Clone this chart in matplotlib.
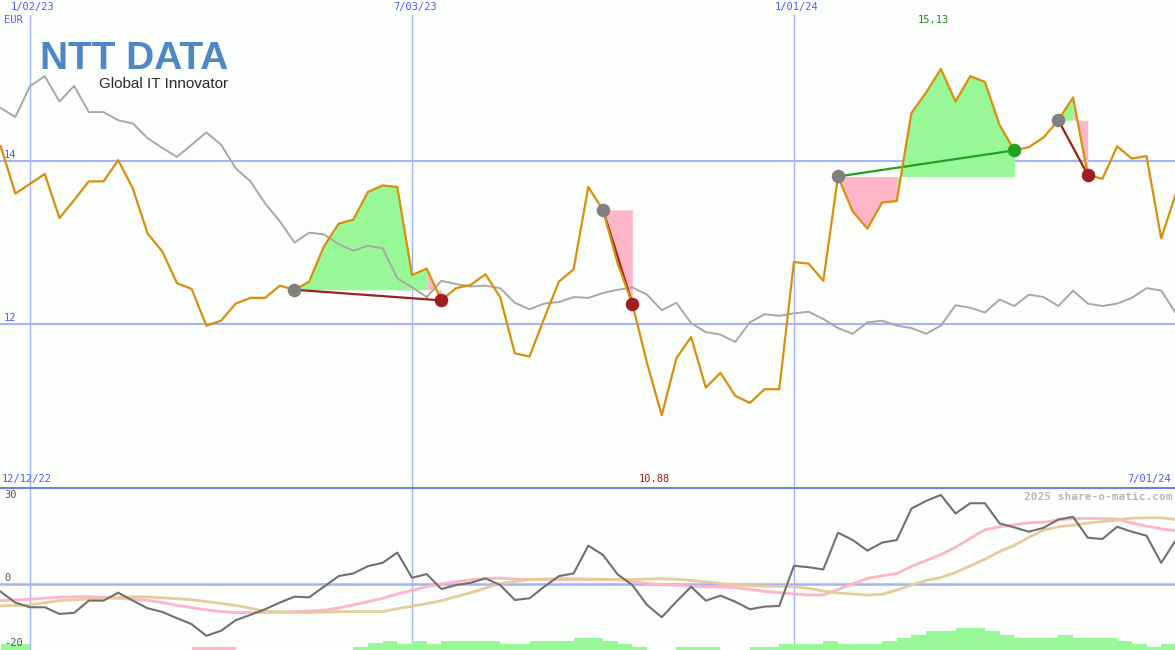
import numpy as np
import matplotlib
matplotlib.use('Agg')
import matplotlib.pyplot as plt

# weekly data, week 1 = 19 Dec 2022
weeks = np.arange(1, 82)

price = [14.18, 13.60, 13.72, 13.84, 13.30, 13.52, 13.75, 13.75, 14.01, 13.66,
         13.11, 12.89, 12.50, 12.43, 11.98, 12.04, 12.25, 12.32, 12.32, 12.47,
         12.42, 12.52, 12.95, 13.23, 13.28, 13.62, 13.70, 13.68, 12.60, 12.68,
         12.29, 12.44, 12.48, 12.61, 12.33, 11.64, 11.60, 12.07, 12.52, 12.67,
         13.68, 13.40, 12.74, 12.25, 11.52, 10.88, 11.58, 11.84, 11.22, 11.40,
         11.12, 11.03, 11.20, 11.20, 12.76, 12.74, 12.53, 13.81, 13.38, 13.17,
         13.49, 13.51, 14.59, 14.84, 15.13, 14.73, 15.04, 14.97, 14.44, 14.13,
         14.17, 14.29, 14.50, 14.78, 13.83, 13.78, 14.18, 14.03, 14.06, 13.05,
         13.60]

# index, rescaled to the price
compare = [14.65, 14.54, 14.92, 15.04, 14.73, 14.92, 14.60, 14.60, 14.50, 14.46,
           14.28, 14.16, 14.05, 14.20, 14.35, 14.20, 13.91, 13.75, 13.48, 13.26,
           13.00, 13.12, 13.10, 12.98, 12.90, 12.96, 12.93, 12.56, 12.45, 12.33,
           12.53, 12.49, 12.46, 12.47, 12.44, 12.26, 12.18, 12.25, 12.27, 12.33,
           12.32, 12.38, 12.42, 12.45, 12.36, 12.17, 12.26, 12.01, 11.90, 11.87,
           11.78, 12.02, 12.12, 12.10, 12.13, 12.15, 12.06, 11.95, 11.88, 12.02,
           12.04, 11.98, 11.95, 11.88, 11.98, 12.23, 12.20, 12.14, 12.30, 12.22,
           12.36, 12.33, 12.22, 12.41, 12.25, 12.22, 12.25, 12.32, 12.44, 12.41,
           12.13]

momentum = [-2.4, -5.7, -7.1, -7.1, -9.1, -8.8, -5.1, -5.1, -2.7, -5.1,
            -7.4, -8.5, -10.4, -12.2, -15.7, -14.2, -11.0, -9.4, -7.7, -5.7,
            -3.9, -4.1, -0.9, 2.3, 3.1, 5.3, 6.3, 9.4, 1.8, 2.9,
            -1.6, -0.4, 0.3, 1.6, -0.4, -4.9, -4.4, -0.9, 2.3, 3.1,
            11.5, 8.7, 2.8, -0.4, -6.4, -10.1, -5.4, -0.9, -5.1, -3.6,
            -5.4, -7.7, -6.9, -6.7, 5.4, 5.0, 4.3, 15.4, 13.2, 10.0,
            12.4, 13.2, 22.7, 25.0, 26.8, 21.2, 24.3, 24.3, 18.2, 17.0,
            15.7, 16.9, 19.4, 20.2, 13.9, 13.5, 17.2, 15.7, 14.5, 6.3,
            13.2]

avg_fast = [-5.1, -4.9, -4.7, -4.35, -4.05, -3.95, -3.9, -4.1, -4.4, -4.7,
            -5.0, -5.7, -6.5, -7.2, -7.9, -8.4, -8.7, -8.7, -8.7, -8.6,
            -8.45, -8.25, -8.0, -7.3, -6.4, -5.4, -4.4, -3.1, -2.0, -0.9,
            -0.05, 0.6, 1.2, 1.6, 1.7, 1.4, 1.3, 1.3, 1.3, 1.3,
            1.3, 1.3, 1.3, 0.7, 0.1, -0.3, -0.5, -0.75, -0.95, -1.0,
            -1.2, -1.7, -2.3, -2.7, -3.1, -3.4, -3.4, -1.7, 0.0, 1.6,
            2.4, 3.1, 5.2, 7.0, 8.8, 11.0, 13.7, 16.3, 17.2, 17.8,
            18.4, 18.6, 19.2, 19.7, 19.7, 19.7, 19.5, 18.3, 17.4, 16.6,
            16.0]

avg_slow = [-6.7, -6.55, -6.4, -5.75, -5.1, -4.85, -4.6, -4.35, -4.15, -3.95,
            -4.0, -4.25, -4.5, -4.85, -5.4, -5.95, -6.55, -7.4, -8.3, -8.5,
            -8.65, -8.65, -8.55, -8.45, -8.4, -8.4, -8.4, -7.55, -6.8, -6.0,
            -5.1, -3.9, -2.7, -1.3, 0.1, 0.7, 1.2, 1.4, 1.55, 1.5,
            1.4, 1.3, 1.3, 1.3, 1.4, 1.5, 1.35, 1.0, 0.55, 0.05,
            -0.4, -0.55, -0.7, -0.8, -0.9, -1.4, -2.2, -2.8, -3.1, -3.4,
            -3.2, -1.9, -0.4, 1.0, 1.9, 3.4, 5.4, 7.4, 9.7, 11.6,
            14.0, 16.2, 17.2, 17.7, 18.3, 18.8, 19.2, 19.8, 19.9, 19.9,
            19.4]

# histogram at the foot of the lower panel (negative = pink)
hist = [1.8, 1.8, 0, 0, 0, 0, 0, 0, 0, 0,
        0, 0, 0, -1.0, -1.0, -1.0, 0, 0, 0, 0,
        0, 0, 0, 0, 1.0, 2.0, 2.8, 1.8, 2.7, 1.8,
        2.7, 2.7, 2.7, 2.7, 1.8, 1.8, 2.7, 2.7, 2.7, 3.7,
        3.7, 2.7, 1.8, 1.0, 0, 0, 1.0, 1.0, 1.0, 0,
        0, 1.0, 1.0, 1.8, 1.8, 1.8, 2.7, 1.8, 1.8, 1.8,
        2.7, 3.5, 4.5, 5.7, 5.7, 6.7, 6.7, 5.7, 4.5, 3.5,
        3.5, 3.5, 4.5, 3.5, 3.5, 3.5, 2.7, 1.8, 1.0, 1.8,
        1.8]

# trades: entry week, exit week
trade_in = [21, 42, 58, 73]
trade_out = [31, 44, 70, 75]

date_weeks = [3, 29, 55]
date_labels = ['1/02/23', '7/03/23', '1/01/24']

bg = '#fbfefb'
grid_c = '#a4b4f4'
blue_txt = '#4a5ef0'
mono = 'DejaVu Sans Mono'
green_f = '#98f898'
pink_f = '#ffb6c8'

fig = plt.figure(figsize=(11.75, 6.5), dpi=100, facecolor=bg)
ax = fig.add_axes([0, 163 / 650, 1, 487 / 650])
ax2 = fig.add_axes([0, 0, 1, 163 / 650])
for a in (ax, ax2):
    a.set_facecolor(bg)
    a.set_xlim(0.953, 80.94)
    for s in a.spines.values():
        s.set_visible(False)
    a.set_xticks([])
    a.set_yticks([])
ax.set_ylim(10.0, 15.975)
ax2.set_ylim(-20, 29.2)

# grid
for v in (12, 14):
    ax.axhline(v, color=grid_c, lw=1.5, zorder=1)
for w in date_weeks:
    ax.axvline(w, ymax=0.969, color=grid_c, lw=1.0, zorder=1)
    ax2.axvline(w, color=grid_c, lw=1.0, zorder=1)
ax2.axhline(0, color=grid_c, lw=1.8, zorder=1)
ax2.axhline(29.2, color='#6c80ea', lw=2.2, zorder=6)

# trades: each week-segment is green if it ends above the entry, pink otherwise
p = np.array(price)
for a_in, a_out in zip(trade_in, trade_out):
    entry = p[a_in - 1]
    k = a_in
    while k < a_out:
        up = p[k] >= entry
        j = k
        while j + 1 < a_out and (p[j + 1] >= entry) == up:
            j += 1
        xs = weeks[k - 1:j + 1]
        ys = p[k - 1:j + 1]
        ax.fill_between(xs, ys, entry, color=green_f if up else pink_f,
                        lw=0, zorder=2)
        k = j + 1

ax.plot(weeks, compare, color='#a8a8a8', lw=1.4, zorder=3)

for a_in, a_out in zip(trade_in, trade_out):
    win = p[a_out - 1] > p[a_in - 1]
    lc = '#22a022' if win else '#a01e1e'
    ax.plot([a_in, a_out], [p[a_in - 1], p[a_out - 1]], color=lc, lw=1.6, zorder=4)

ax.plot(weeks, price, color='#d8900c', lw=1.6, zorder=5)

for a_in, a_out in zip(trade_in, trade_out):
    win = p[a_out - 1] > p[a_in - 1]
    ax.scatter([a_in], [p[a_in - 1]], s=95, color='#808080', zorder=6, lw=0)
    ax.scatter([a_out], [p[a_out - 1]], s=95, color='#22a022' if win else '#a01e1e',
               zorder=6, lw=0)

# lower panel
h = np.array(hist)
ax2.bar(weeks, np.abs(h), width=1, align='edge', bottom=-20,
        color=[green_f if v >= 0 else pink_f for v in h], lw=0, zorder=2)
ax2.plot(weeks, avg_fast, color='#ffb4c8', lw=2.0, zorder=3)
ax2.plot(weeks, avg_slow, color='#e4cc9c', lw=2.0, zorder=3)
ax2.plot(weeks, momentum, color='#707070', lw=1.5, zorder=4)

# texts
for w, lbl in zip(date_weeks, date_labels):
    ax.annotate(lbl, xy=(w, 1), xycoords=('data', 'axes fraction'), xytext=(2, -1.5),
                textcoords='offset points', ha='center', va='top', fontsize=7.5,
                family=mono, color=blue_txt)
ax.annotate('EUR', xy=(0, 1), xycoords='axes fraction', xytext=(3, -10.5),
            textcoords='offset points', ha='left', va='top', fontsize=7.5,
            family=mono, color=blue_txt)
for v in (12, 14):
    ax.annotate(str(v), xy=(0, v), xycoords=('axes fraction', 'data'), xytext=(3, 0.5),
                textcoords='offset points', ha='left', va='bottom', fontsize=7.5,
                family=mono, color=blue_txt)

imax = int(np.argmax(p))
imin = int(np.argmin(p))
ax.annotate(f'{p[imax]:.2f}', xy=(weeks[imax] - 0.5, 1), xycoords=('data', 'axes fraction'),
            xytext=(0, -11), textcoords='offset points', ha='center', va='top',
            fontsize=7.5, family=mono, color='#208a20')
ax.annotate(f'{p[imin]:.2f}', xy=(weeks[imin] - 0.5, 0), xycoords=('data', 'axes fraction'),
            xytext=(0, 2), textcoords='offset points', ha='center', va='bottom',
            fontsize=7.5, family=mono, color='#a01818')
ax.annotate('12/12/22', xy=(0, 0), xycoords='axes fraction', xytext=(1, 2),
            textcoords='offset points', ha='left', va='bottom', fontsize=7.5,
            family=mono, color=blue_txt)
ax.annotate('7/01/24', xy=(1, 0), xycoords='axes fraction', xytext=(-3, 2),
            textcoords='offset points', ha='right', va='bottom', fontsize=7.5,
            family=mono, color=blue_txt)

for v, lbl, va, dy in ((29.2, '30', 'top', -2.5), (0, '0', 'bottom', 0.5),
                       (-20, '-20', 'bottom', 1.5)):
    ax2.annotate(lbl, xy=(0, v), xycoords=('axes fraction', 'data'),
                 xytext=(3, dy), textcoords='offset points', ha='left', va=va,
                 fontsize=7.5, family=mono, color='#555555')
ax2.annotate('2025 share-o-matic.com', xy=(1, 1), xycoords='axes fraction',
             xytext=(-2, -3.5), textcoords='offset points', ha='right', va='top',
             fontsize=8, family=mono, weight='bold', color='#b8b8b8')

# logo
fig.text(40 / 1175, 1 - 69 / 650, 'NTT DATA', fontsize=28, weight='bold',
         family='Liberation Sans', color='#4f86c6', ha='left', va='baseline')
fig.text(228 / 1175, 1 - 84 / 650, 'Global IT Innovator', fontsize=11,
         family='Liberation Sans', color='#2a2a2a', ha='right', va='center')

fig.savefig('out.png', dpi=100, facecolor=bg)
